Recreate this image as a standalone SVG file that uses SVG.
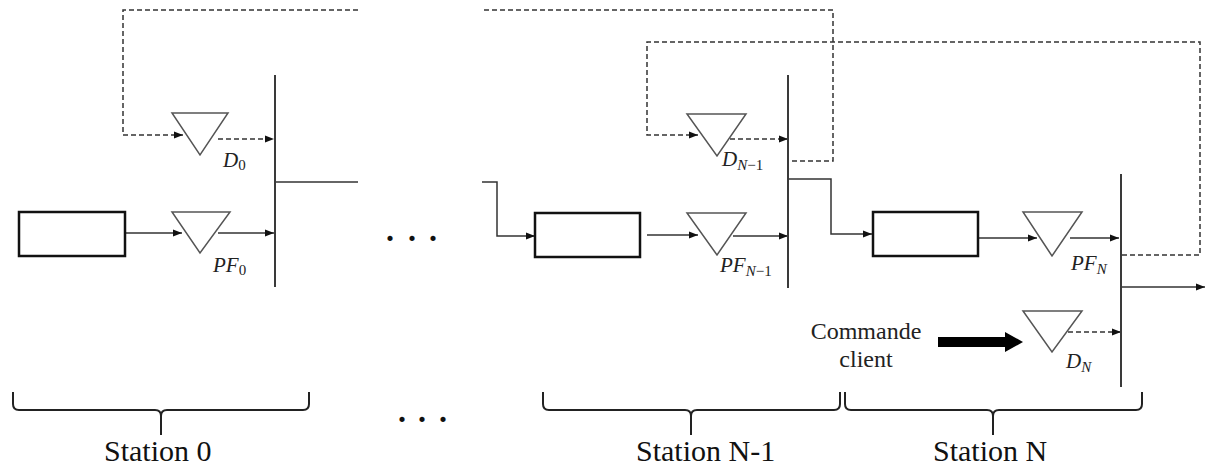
<svg xmlns="http://www.w3.org/2000/svg" width="1211" height="469" viewBox="0 0 1211 469">
<style>
.box{fill:#fff;stroke:#111;stroke-width:2.5}
.tri{fill:#fff;stroke:#555;stroke-width:1.5}
.bar{stroke:#3a3a3a;stroke-width:2;fill:none}
.ln{stroke:#333;stroke-width:1.5;fill:none}
.dash{stroke:#333;stroke-width:1.5;fill:none;stroke-dasharray:5 3}
.brace{stroke:#222;stroke-width:2;fill:none}
.m{font-family:"Liberation Serif",serif;font-style:italic;font-size:21px;fill:#222}
.sub{font-size:15px}
.up{font-style:normal}
.st{font-family:"Liberation Serif",serif;font-size:30px;fill:#111}
.cc{font-family:"Liberation Serif",serif;font-size:24px;fill:#222;text-anchor:middle}
.dots{font-family:"Liberation Serif",serif;font-weight:bold;font-size:32px;fill:#111}
</style>
<defs>
<marker id="ah" viewBox="0 0 10 10" refX="10" refY="5" markerWidth="9" markerHeight="9" markerUnits="userSpaceOnUse" orient="auto">
<path d="M0,1 L10,5 L0,9 z" fill="#111"/>
</marker>
</defs>

<g id="connectors">
<!-- station 0 -->
<path class="dash" d="M358,10 H123 V135 H183" marker-end="url(#ah)"/>
<path class="dash" d="M218,139 H274" marker-end="url(#ah)"/>
<path class="ln" d="M125,233 H182" marker-end="url(#ah)"/>
<path class="ln" d="M218,233 H274" marker-end="url(#ah)"/>
<path class="ln" d="M275,182 H358"/>
<!-- station N-1 -->
<path class="ln" d="M482,182 H497 V236 H535" marker-end="url(#ah)"/>
<path class="ln" d="M647,235 H698" marker-end="url(#ah)"/>
<path class="ln" d="M733,236 H788" marker-end="url(#ah)"/>
<path class="dash" d="M792,161 H833 V10 H482"/>
<path class="dash" d="M1122,255 H1200 V42 H647 V135 H698" marker-end="url(#ah)"/>
<path class="dash" d="M730,139 H788" marker-end="url(#ah)"/>
<path class="ln" d="M788,179 H831 V234 H872" marker-end="url(#ah)"/>
<!-- station N -->
<path class="ln" d="M978,238 H1037" marker-end="url(#ah)"/>
<path class="ln" d="M1070,238 H1119" marker-end="url(#ah)"/>
<path class="ln" d="M1121,287 H1205" marker-end="url(#ah)"/>
<path class="dash" d="M1068,332 H1121" marker-end="url(#ah)"/>
<path d="M938,337 H1005 V332 L1023,342 L1005,352 V347 H938 z" fill="#000"/>
</g>

<g id="station0">
<rect class="box" x="19" y="212" width="106" height="44"/>
<path class="tri" d="M172,113 H228 L200,155 z"/>
<path class="tri" d="M172,212 H230 L200,253 z"/>
<line class="bar" x1="275" y1="75" x2="275" y2="287"/>
<text class="m" x="223" y="167">D<tspan class="sub up" dy="3">0</tspan></text>
<text class="m" x="213" y="272">PF<tspan class="sub up" dy="3">0</tspan></text>
</g>

<g id="stationN1">
<rect class="box" x="535" y="213" width="105" height="44"/>
<path class="tri" d="M687,114 H746 L717,156 z"/>
<path class="tri" d="M687,213 H746 L717,255 z"/>
<line class="bar" x1="788" y1="75" x2="788" y2="288"/>
<text class="m" x="722" y="166">D<tspan class="sub" dy="4">N</tspan><tspan class="sub up">−1</tspan></text>
<text class="m" x="720" y="272">PF<tspan class="sub" dy="4">N</tspan><tspan class="sub up">−1</tspan></text>
</g>

<g id="stationN">
<rect class="box" x="873" y="212" width="105" height="44"/>
<path class="tri" d="M1023,212 H1082 L1052,256 z"/>
<path class="tri" d="M1023,311 H1082 L1052,352 z"/>
<line class="bar" x1="1121" y1="174" x2="1121" y2="387"/>
<text class="m" x="1071" y="270">PF<tspan class="sub" dy="4">N</tspan></text>
<text class="m" x="1066" y="368">D<tspan class="sub" dy="4">N</tspan></text>
</g>

<g id="commande">
<text class="cc" x="866" y="339">Commande</text>
<text class="cc" x="866" y="367">client</text>
</g>

<g id="ellipsis">
<text class="dots" x="386 408 429" y="241">...</text>
<text class="dots" x="398 418 439" y="422">...</text>
</g>

<g id="braces">
<path class="brace" d="M13,392 V404 Q13,410 19,410 H155 Q161,410 161,416 V435 M161,416 Q161,410 167,410 H303 Q309,410 309,404 V392"/>
<path class="brace" d="M543,392 V404 Q543,410 549,410 H685 Q691,410 691,416 V435 M691,416 Q691,410 697,410 H834 Q840,410 840,404 V392"/>
<path class="brace" d="M845,392 V404 Q845,410 851,410 H987 Q993,410 993,416 V435 M993,416 Q993,410 999,410 H1136 Q1142,410 1142,404 V392"/>
<text class="st" x="104" y="461">Station 0</text>
<text class="st" x="636" y="461">Station N-1</text>
<text class="st" x="933" y="461">Station N</text>
</g>
</svg>
